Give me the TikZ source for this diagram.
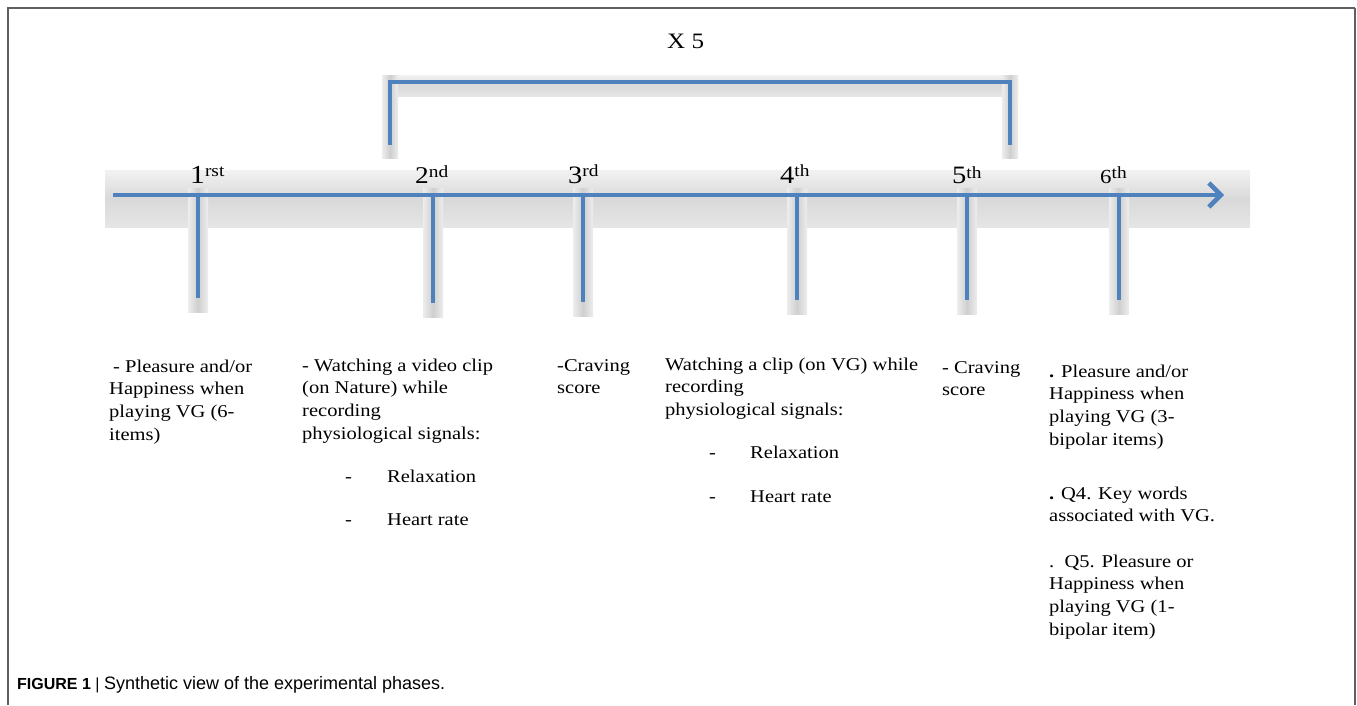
\documentclass[tikz,border=0pt]{standalone}
\usepackage{fontspec}
\setmainfont{Liberation Serif}[FakeStretch=1.14]
\newfontfamily\capfont{Liberation Sans}
\usetikzlibrary{arrows.meta}
\definecolor{lineblue}{RGB}{79,129,189}
\definecolor{framegray}{RGB}{95,95,95}
\newcommand\phaselab[4]{{\fontsize{#1}{#1}\selectfont #2}\raisebox{#4}{\fontsize{17}{17}\selectfont #3}}
\begin{document}
\begin{tikzpicture}[x=1pt,y=-1pt,
  bluel/.style={draw=lineblue, line width=4.5pt},
  hband/.style={top color=black!5, bottom color=black!10, middle color=black!15, draw=none},
  vband/.style={left color=black!7, right color=black!7, middle color=black!19, draw=none},
  txt/.style={anchor=north west, inner sep=0pt, align=left, font=\fontsize{18}{22.7}\selectfont},
  lab/.style={anchor=base west, inner sep=0pt},
  framel/.style={draw=framegray, line width=1.5pt}]
\useasboundingbox (0,0) rectangle (1357,705);
% frame
\coordinate (f1) at (8,705);
\coordinate (f2) at (8,8);
\coordinate (f3) at (1355,8);
\coordinate (f4) at (1355,705);
\draw[framel] (f1) -- (f2) -- (f3);
\draw[framel, line width=2.5pt] (f3) -- (f4);
% shadow bands
\fill[hband] (105,170) rectangle (1250,227);
\fill[hband] (382,75) rectangle (1018,96);
\fill[vband] (382,75) rectangle (398,158);
\fill[vband] (1002,75) rectangle (1018,158);
\foreach \x/\b in {198/298, 433/303, 583/302, 797/300, 967/300, 1119/300}{
  \fill[vband] (\x-10,188) rectangle (\x+10,\b+14);
}
% bracket
\coordinate (bl) at (390,145);
\coordinate (tl) at (390,82);
\coordinate (tr) at (1010,82);
\coordinate (br) at (1010,145);
\draw[bluel] (bl) -- (tl) -- (tr) -- (br);
% axis
\coordinate (axs) at (113,195);
\coordinate (axe) at (1224,195);
\draw[bluel, -{Straight Barb[length=12pt,width=24pt]}] (axs) -- (axe);
% ticks
\foreach \i/\x/\b in {1/198/298, 2/433/303, 3/583/302, 4/797/300, 5/967/300, 6/1119/300}{
  \coordinate (t\i) at (\x,195);
  \coordinate (b\i) at (\x,\b);
  \draw[bluel] (t\i) -- (b\i);
}
% phase labels
\node[lab] (l1) at (190,183) {\phaselab{26}{1}{rst}{7pt}};
\node[lab] (l2) at (415,183) {\phaselab{24}{2}{nd}{6pt}};
\node[lab] (l3) at (568,183) {\phaselab{25}{3}{rd}{7pt}};
\node[lab] (l4) at (780,183) {\phaselab{25}{4}{th}{7pt}};
\node[lab] (l5) at (952,183) {\phaselab{25}{5}{th}{5pt}};
\node[lab] (l6) at (1100,183) {\phaselab{20}{6}{th}{5pt}};
\node[lab] (x5) at (667,48) {\fontsize{22}{22}\selectfont X 5};
% texts
\node[txt] (c1) at (109,356) {\strut\hspace*{4pt}- Pleasure and/or\\Happiness when\\playing VG (6-\\items)};
\node[txt] (c2) at (302,355) {\strut- Watching a video clip\\(on Nature) while\\recording\\physiological signals:};
\node[txt] (c2b) at (345,466) {\strut\makebox[42pt][l]{-}Relaxation\\[21pt]\makebox[42pt][l]{-}Heart rate};
\node[txt] (c3) at (557,355) {\strut-Craving\\score};
\node[txt] (c4) at (665,354) {\strut Watching a clip (on VG) while\\recording\\physiological signals:};
\node[txt] (c4b) at (709,442) {\strut\makebox[41pt][l]{-}Relaxation\\[22pt]\makebox[41pt][l]{-}Heart rate};
\node[txt] (c5) at (942,357) {\strut- Craving\\score};
\node[txt] (c6a) at (1049,361) {\strut\textbf{.} Pleasure and/or\\Happiness when\\playing VG (3-\\bipolar items)};
\node[txt] (c6b) at (1049,483) {\strut\textbf{.} Q4. Key words\\associated with VG.};
\node[txt] (c6c) at (1049,551) {\strut.\ \ Q5. Pleasure or\\Happiness when\\playing VG (1-\\bipolar item)};
% caption
\node[lab] (cap) at (17,689) {\capfont\fontsize{16}{18}\selectfont\textbf{FIGURE 1} | {\fontsize{18}{18}\selectfont Synthetic view of the experimental phases.}};
\end{tikzpicture}
\end{document}
